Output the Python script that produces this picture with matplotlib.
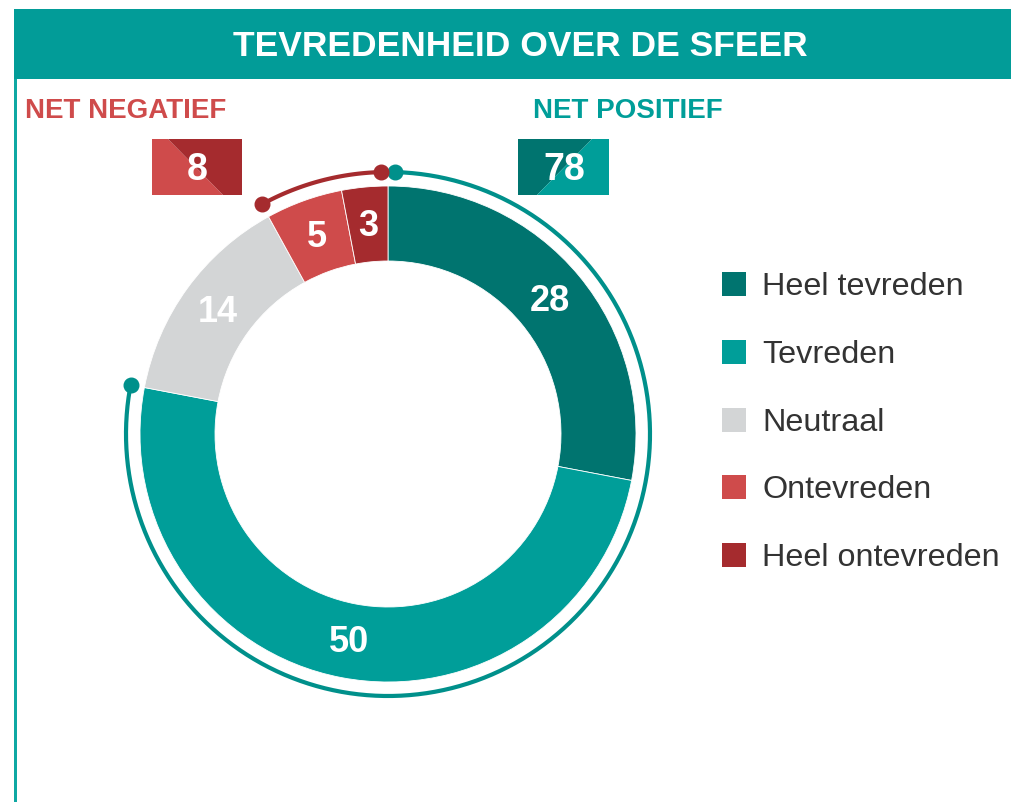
import numpy as np
import matplotlib.pyplot as plt
from matplotlib.patches import Rectangle, Polygon

plt.rcParams['font.family'] = ['Liberation Sans', 'DejaVu Sans']

# Data
categories = ['Heel tevreden', 'Tevreden', 'Neutraal', 'Ontevreden', 'Heel ontevreden']
values = [28, 50, 14, 5, 3]
colors = ['#00746F', '#009E99', '#D3D5D6', '#CF4B4B', '#A52B2E']
net_positive = values[0] + values[1]
net_negative = values[3] + values[4]

W, H = 1011, 803
fig = plt.figure(figsize=(W / 100, H / 100), dpi=100)

# background axes in pixel coordinates
bg = fig.add_axes([0, 0, 1, 1])
bg.set_xlim(0, W)
bg.set_ylim(H, 0)
bg.axis('off')

teal = '#029C98'
bg.add_patch(Rectangle((14, 10), W - 14, 70, color=teal, lw=0))
bg.add_patch(Rectangle((14, 80), 3, H - 80, color='#0FA8A3', lw=0))
bg.text(520, 46, 'TEVREDENHEID OVER DE SFEER', color='white', fontsize=25.5,
        fontweight='bold', ha='center', va='center')

bg.text(25, 111, 'NET NEGATIEF', color='#CF4B4B', fontsize=20, fontweight='bold',
        ha='left', va='center')
bg.text(533, 111, 'NET POSITIEF', color='#009E99', fontsize=20, fontweight='bold',
        ha='left', va='center')

# net boxes with diagonal split
bg.add_patch(Polygon([(152, 140), (168, 140), (223, 196), (152, 196)], color=colors[3], lw=0))
bg.add_patch(Polygon([(168, 140), (242, 140), (242, 196), (223, 196)], color=colors[4], lw=0))
bg.text(197, 170, str(net_negative), color='white', fontsize=27, fontweight='bold',
        ha='center', va='center')

bg.add_patch(Polygon([(518, 140), (592, 140), (537, 196), (518, 196)], color=colors[0], lw=0))
bg.add_patch(Polygon([(592, 140), (609, 140), (609, 196), (537, 196)], color=colors[1], lw=0))
bg.text(564, 170, str(net_positive), color='white', fontsize=27, fontweight='bold',
        ha='center', va='center')

# legend
for i, (cat, col) in enumerate(zip(categories, colors)):
    yc = 285 + i * 67.8
    bg.add_patch(Rectangle((722, yc - 12), 24, 24, color=col, lw=0))
    bg.text(762, yc + 2, cat, color='#333333', fontsize=23.3, ha='left', va='center')

# donut
cx, cy, half = 388, 435, 270
ax = fig.add_axes([(cx - half) / W, (H - cy - half) / H, 2 * half / W, 2 * half / H])

R, width = 248, 75
wedges, _ = ax.pie(values, colors=colors, startangle=90, counterclock=False,
                   radius=R, wedgeprops=dict(width=width, edgecolor='white', linewidth=0.6))
ax.set_xlim(-half, half)
ax.set_ylim(-half, half)
ax.set_aspect('equal')
ax.axis('off')

total = sum(values)
start = 90
r_lab = R - width / 2
for v in values:
    span = v / total * 360
    mid = np.radians(start - span / 2)
    ax.text(r_lab * np.cos(mid), r_lab * np.sin(mid) - 1, str(v), color='white',
            fontsize=26, fontweight='bold', ha='center', va='center')
    start -= span

# outer arcs for net positive / negative
r_arc = 262
gap = 1.6
th_pos = np.radians(np.linspace(90 - gap, 90 - net_positive / total * 360, 300))
ax.plot(r_arc * np.cos(th_pos), r_arc * np.sin(th_pos), color='#00908B', lw=3.0,
        solid_capstyle='round')
ax.plot(r_arc * np.cos(th_pos[[0, -1]]), r_arc * np.sin(th_pos[[0, -1]]), 'o',
        color='#00908B', markersize=10.5)

th_neg = np.radians(np.linspace(90 + gap, 90 + net_negative / total * 360, 100))
ax.plot(r_arc * np.cos(th_neg), r_arc * np.sin(th_neg), color=colors[4], lw=3.0,
        solid_capstyle='round')
ax.plot(r_arc * np.cos(th_neg[[0, -1]]), r_arc * np.sin(th_neg[[0, -1]]), 'o',
        color=colors[4], markersize=10.5)

fig.savefig('out.png', dpi=100)
